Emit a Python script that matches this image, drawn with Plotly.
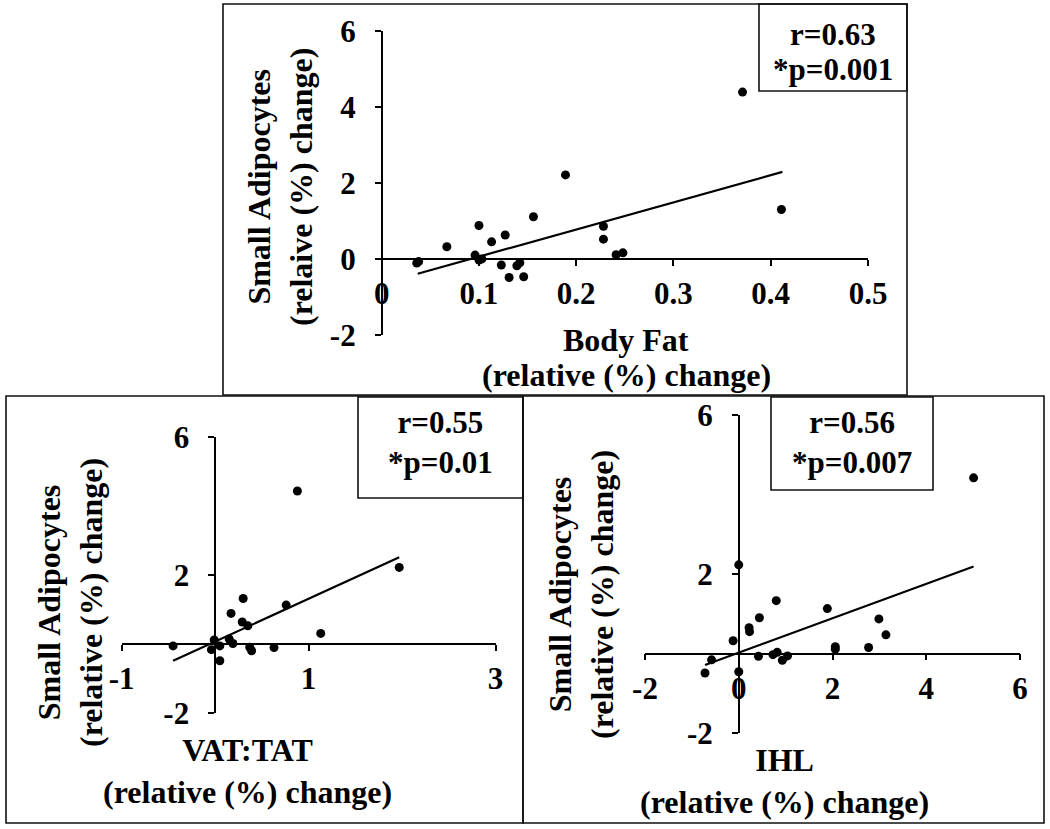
import plotly.graph_objects as go

# ---------------- data ----------------
bf_x = [0.036, 0.038, 0.067, 0.096, 0.100, 0.100, 0.103, 0.113, 0.127, 0.123, 0.131,
        0.139, 0.142, 0.146, 0.156, 0.189, 0.228, 0.228, 0.241, 0.248, 0.371, 0.411]
bf_y = [-0.10, -0.06, 0.33, 0.11, 0.89, -0.02, 0.01, 0.46, 0.64, -0.15, -0.48,
        -0.17, -0.09, -0.46, 1.12, 2.22, 0.87, 0.53, 0.12, 0.17, 4.40, 1.31]
bf_fit_x = [0.037, 0.412]
bf_fit_y = [-0.38, 2.30]

vt_x = [-0.45, -0.01, -0.04, 0.05, 0.05, 0.17, 0.15, 0.19, 0.30, 0.29, 0.35,
        0.37, 0.39, 0.63, 0.76, 0.88, 1.13, 1.97]
vt_y = [-0.05, 0.12, -0.16, -0.05, -0.48, 0.89, 0.15, 0.02, 1.32, 0.64, 0.53,
        -0.09, -0.19, -0.10, 1.13, 4.43, 0.31, 2.22]
vt_fit_x = [-0.45, 1.97]
vt_fit_y = [-0.48, 2.51]

ihl_x = [-0.72, -0.58, -0.12, 0.0, 0.0, 0.22, 0.23, 0.44, 0.42, 0.80, 0.73,
         0.82, 0.93, 1.04, 1.89, 2.06, 2.06, 2.77, 2.99, 3.14, 5.01]
ihl_y = [-0.49, -0.16, 0.32, 2.23, -0.46, 0.65, 0.55, 0.90, -0.07, 1.33, -0.03,
         0.03, -0.17, -0.06, 1.13, 0.17, 0.11, 0.15, 0.87, 0.47, 4.42]
ihl_fit_x = [-0.72, 5.01]
ihl_fit_y = [-0.29, 2.19]

bf_xticks = [0, 0.1, 0.2, 0.3, 0.4, 0.5]
bf_xlabels = ["0", "0.1", "0.2", "0.3", "0.4", "0.5"]
bf_yticks = [-2, 0, 2, 4, 6]
vt_xticks = [-1, 1, 3]
ihl_xticks = [-2, 0, 2, 4, 6]
low_yticks = [-2, 2, 6]

stats_top = ["r=0.63", "*p=0.001"]
stats_left = ["r=0.55", "*p=0.01"]
stats_right = ["r=0.56", "*p=0.007"]

# ---------------- layout helpers ----------------
W, H = 1050, 829
FONT = "Liberation Serif"
FS = 31
FT = 32


def px(v):
    return v / W


def py(v):
    return 1 - v / H


def dom_x(a, b):
    return [px(a), px(b)]


def dom_y(top, bottom):
    return [py(bottom), py(top)]


def frac(val, rng, dom):
    return dom[0] + (val - rng[0]) / (rng[1] - rng[0]) * (dom[1] - dom[0])


panels = [
    dict(x=bf_x, y=bf_y, fx=bf_fit_x, fy=bf_fit_y, xr=[0, 0.5], yr=[-2, 6],
         xd=dom_x(381.7, 868), yd=dom_y(31.3, 335.3),
         xt=bf_xticks, xl=bf_xlabels, yt=bf_yticks),
    dict(x=vt_x, y=vt_y, fx=vt_fit_x, fy=vt_fit_y, xr=[-1, 3], yr=[-2, 6],
         xd=dom_x(121.7, 495.5), yd=dom_y(436.7, 713.3),
         xt=vt_xticks, xl=[str(v) for v in vt_xticks], yt=low_yticks),
    dict(x=ihl_x, y=ihl_y, fx=ihl_fit_x, fy=ihl_fit_y, xr=[-2, 6], yr=[-2, 6],
         xd=dom_x(645, 1020), yd=dom_y(415, 733),
         xt=ihl_xticks, xl=[str(v) for v in ihl_xticks], yt=low_yticks),
]

fig = go.Figure()
layout = dict(width=W, height=H, margin=dict(l=0, r=0, t=0, b=0, pad=0, autoexpand=False),
              paper_bgcolor="white", plot_bgcolor="white", showlegend=False,
              font=dict(family=FONT, size=FS, color="black", weight="bold"))

for i, p in enumerate(panels):
    sfx = "" if i == 0 else str(i + 1)
    fig.add_trace(go.Scatter(x=p["x"], y=p["y"], mode="markers",
                             marker=dict(color="black", size=9),
                             xaxis="x" + sfx, yaxis="y" + sfx, cliponaxis=False))
    fig.add_trace(go.Scatter(x=p["fx"], y=p["fy"], mode="lines",
                             line=dict(color="black", width=2.2),
                             xaxis="x" + sfx, yaxis="y" + sfx))
    ax_common = dict(showgrid=False, zeroline=False, showline=True, linecolor="black",
                     linewidth=1.6, ticks="outside", ticklen=6, tickwidth=1.5,
                     tickcolor="black", anchor="free", automargin=False,
                     tickfont=dict(family=FONT, size=FS, color="black", weight="bold"))
    layout["xaxis" + sfx] = dict(ax_common, domain=p["xd"], range=p["xr"],
                                 tickvals=p["xt"], ticktext=p["xl"], ticklabelstandoff=1,
                                 position=frac(0, p["yr"], p["yd"]))
    layout["yaxis" + sfx] = dict(ax_common, domain=p["yd"], range=p["yr"],
                                 tickvals=p["yt"], ticktext=[str(v) for v in p["yt"]],
                                 ticklabelstandoff=13,
                                 position=frac(0, p["xr"], p["xd"]))

# panel frames and stat boxes
boxes = [(223, 4, 907, 395), (6, 396, 523, 823), (523, 396, 1044, 823),
         (759, 4, 907, 91), (358, 397, 523, 498), (771, 397, 933, 490)]
shapes = []
for (x0, y0, x1, y1) in boxes:
    shapes.append(dict(type="rect", xref="paper", yref="paper",
                       x0=px(x0), x1=px(x1), y0=py(y1), y1=py(y0),
                       line=dict(color="#111", width=1.6), fillcolor="rgba(0,0,0,0)",
                       layer="above"))
layout["shapes"] = shapes

ann = []


def text(lines, x, y, angle=0, size=FS):
    ann.append(dict(text="<br>".join(lines), x=px(x), y=py(y), xref="paper", yref="paper",
                    showarrow=False, textangle=angle, xanchor="center", yanchor="middle",
                    align="center",
                    font=dict(family=FONT, size=size, color="black", weight="bold")))


# stats
text([stats_top[0]], 833, 34)
text([stats_top[1]], 833, 69)
text(stats_left, 440, 443)
text(stats_right, 852, 443)

# axis titles
text(["Small Adipocytes", "(relaive (%) change)"], 280, 187, -90, FT)
text(["Body Fat"], 626, 340, 0, FT)
text(["(relative (%) change)"], 626, 375, 0, FT)

text(["Small Adipocytes", "(relative (%) change)"], 70, 603, -90, FT)
text(["VAT:TAT", "(relative (%) change)"], 247, 771, 0, FT)

text(["Small Adipocytes", "(relative (%) change)"], 581, 595, -90, FT)
text(["IHL", "(relative (%) change)"], 784, 781, 0, FT)

layout["annotations"] = ann
fig.update_layout(**layout)

fig.write_html("out.html", config={"displayModeBar": False},
               post_script="document.body.style.margin='0';")
